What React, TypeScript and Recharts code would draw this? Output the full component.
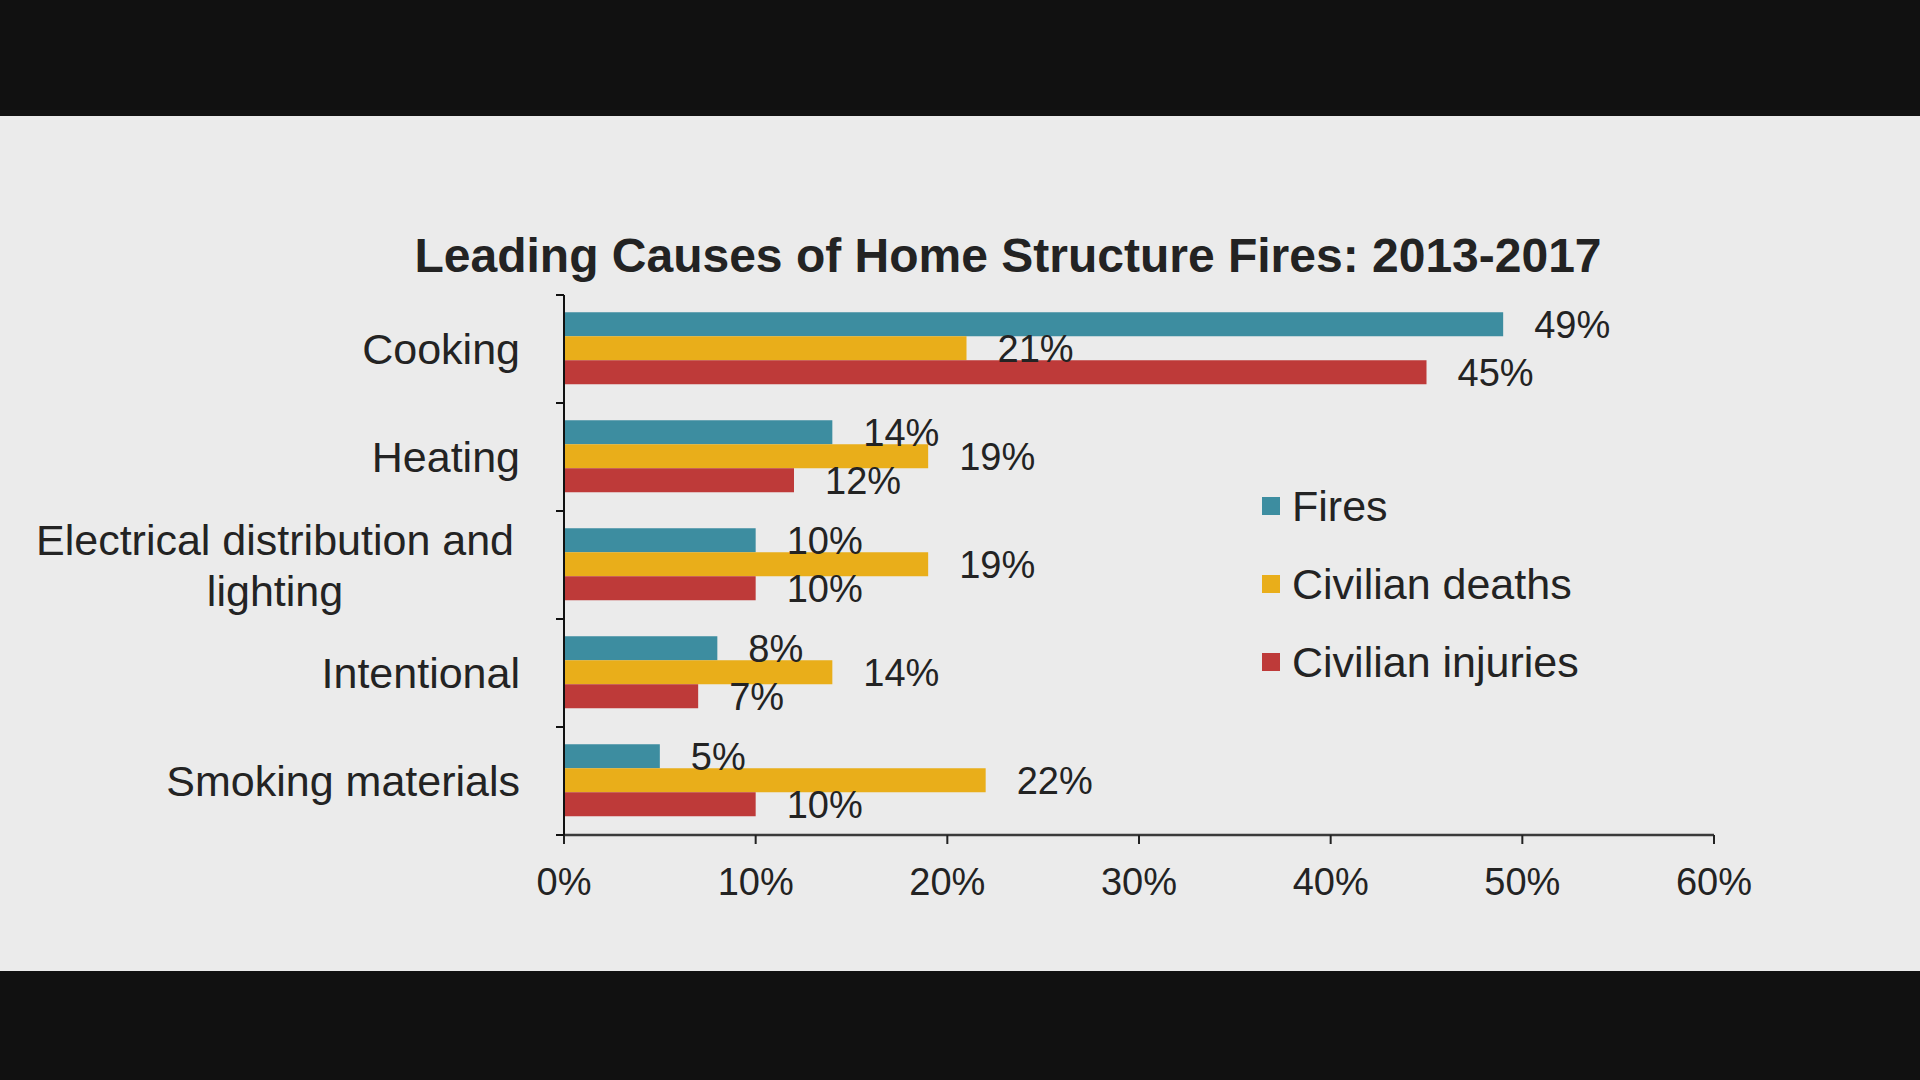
import React from 'react';
import { BarChart, Bar, XAxis, YAxis, Legend, LabelList } from 'recharts';

// causes, top to bottom
const causes = ['Cooking', 'Heating', 'Electrical distribution and lighting', 'Intentional', 'Smoking materials'];

// shares in percent
const fires = [49, 14, 10, 8, 5];
const civilianDeaths = [21, 19, 19, 14, 22];
const civilianInjuries = [45, 12, 10, 7, 10];

const seriesNames = ['Fires', 'Civilian deaths', 'Civilian injuries'];

const xTicks = [0, 10, 20, 30, 40, 50, 60];

const FONT = '"Liberation Sans", Arial, sans-serif';
const TEXT = '#232323';

const data = causes.map((cause, i) => ({
  cause,
  fires: fires[i],
  deaths: civilianDeaths[i],
  injuries: civilianInjuries[i],
}));

// greedy wrap, the way the source tool breaks long category names
const wrap = (label: string, max = 28) => {
  const lines: string[] = [];
  let cur = '';
  label.split(' ').forEach((w) => {
    const next = cur ? `${cur} ${w}` : w;
    if (next.length > max && cur) {
      lines.push(cur);
      cur = w;
    } else {
      cur = next;
    }
  });
  if (cur) lines.push(cur);
  return lines;
};

// category label plus a tick mark on each band edge
const CauseTick = (props: any) => {
  const { x, y, payload, index } = props;
  const half = payload.offset ?? 0;
  const lines = wrap(String(payload.value));
  const last = index === causes.length - 1;
  return (
    <g>
      <line x1={x - 8} x2={x} y1={y - half} y2={y - half} stroke="#111" strokeWidth={2} />
      {last && <line x1={x - 8} x2={x} y1={y + half} y2={y + half} stroke="#111" strokeWidth={2} />}
      {lines.length === 1 ? (
        <text x={x - 44} y={y} dy="0.35em" textAnchor="end" fontSize={43} fill={TEXT} fontFamily={FONT}>
          {lines[0]}
        </text>
      ) : (
        <text x={x - 289} y={y} textAnchor="middle" fontSize={43} fill={TEXT} fontFamily={FONT}>
          {lines.map((l, i) => (
            <tspan key={i} x={x - 289} y={y + (i - (lines.length - 1) / 2) * 51} dy="0.35em">
              {l}
            </tspan>
          ))}
        </text>
      )}
    </g>
  );
};

const LegendBox = ({ payload }: any) => {
  const items = [...(payload || [])].sort(
    (a: any, b: any) => seriesNames.indexOf(a.value) - seriesNames.indexOf(b.value)
  );
  return (
    <div style={{ fontFamily: FONT }}>
      {items.map((item: any) => (
        <div key={item.value} style={{ display: 'flex', alignItems: 'center', height: 78 }}>
          <span style={{ width: 18, height: 18, background: item.color, marginRight: 12, display: 'inline-block' }} />
          <span style={{ fontSize: 43, color: TEXT, whiteSpace: 'nowrap' }}>{item.value}</span>
        </div>
      ))}
    </div>
  );
};

export default function App() {
  return (
    <div style={{ position: 'absolute', left: 0, top: 0, width: 1920, height: 1080, background: '#111', overflow: 'hidden' }}>
      <div style={{ position: 'absolute', left: 0, top: 116, width: 1920, height: 855, background: '#ebebeb' }} />
      <div
        style={{
          position: 'absolute',
          left: 0,
          top: 232,
          width: 2016,
          textAlign: 'center',
          fontFamily: FONT,
          fontWeight: 'bold',
          fontSize: 48,
          lineHeight: '48px',
          color: TEXT,
          whiteSpace: 'nowrap',
        }}
      >
        Leading Causes of Home Structure Fires: 2013-2017
      </div>
      <div style={{ position: 'absolute', left: 0, top: 0 }}>
        <BarChart
          width={1920}
          height={1080}
          data={data}
          layout="vertical"
          margin={{ top: 295, right: 206, left: 0, bottom: 185 }}
          barCategoryGap="16%"
          barGap={0}
        >
          <XAxis
            type="number"
            domain={[0, 60]}
            ticks={xTicks}
            tickFormatter={(v) => `${v}%`}
            height={60}
            axisLine={{ stroke: '#3a3a3a', strokeWidth: 2.5 }}
            tickLine={{ stroke: '#222', strokeWidth: 2 }}
            tickSize={9}
            tickMargin={24}
            tick={{ fontSize: 38, fill: TEXT, fontFamily: FONT }}
          />
          <YAxis
            type="category"
            dataKey="cause"
            width={564}
            axisLine={{ stroke: '#111', strokeWidth: 2 }}
            tickLine={false}
            tickSize={0}
            tickMargin={0}
            interval={0}
            tick={<CauseTick />}
          />
          <Legend
            layout="vertical"
            align="center"
            verticalAlign="middle"
            wrapperStyle={{ left: 1262, top: 467, width: 'auto' }}
            content={<LegendBox />}
          />
          <Bar dataKey="fires" name={seriesNames[0]} fill="#3d8da0" isAnimationActive={false}>
            <LabelList dataKey="fires" position="right" offset={31} formatter={(v: any) => `${v}%`} style={{ fontSize: 38, fill: TEXT, fontFamily: FONT }} />
          </Bar>
          <Bar dataKey="deaths" name={seriesNames[1]} fill="#e9ae1a" isAnimationActive={false}>
            <LabelList dataKey="deaths" position="right" offset={31} formatter={(v: any) => `${v}%`} style={{ fontSize: 38, fill: TEXT, fontFamily: FONT }} />
          </Bar>
          <Bar dataKey="injuries" name={seriesNames[2]} fill="#be3a39" isAnimationActive={false}>
            <LabelList dataKey="injuries" position="right" offset={31} formatter={(v: any) => `${v}%`} style={{ fontSize: 38, fill: TEXT, fontFamily: FONT }} />
          </Bar>
        </BarChart>
      </div>
    </div>
  );
}
